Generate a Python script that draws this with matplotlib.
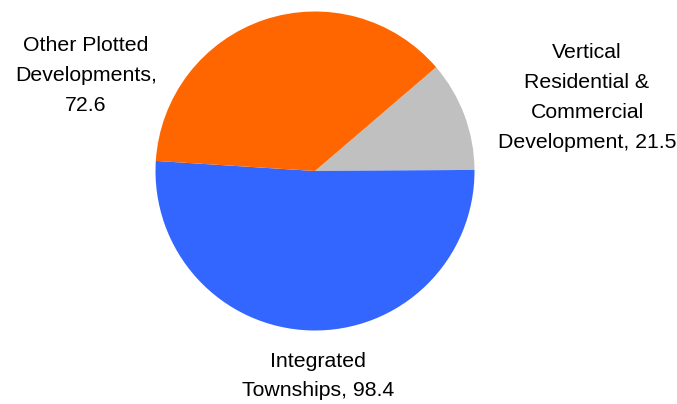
import matplotlib
matplotlib.use("Agg")
import matplotlib.pyplot as plt

categories = ["Vertical\nResidential &\nCommercial\nDevelopment", "Integrated\nTownships", "Other Plotted\nDevelopments"]
values = [21.5, 98.4, 72.6]
colors = ["#C0C0C0", "#3366FF", "#FF6600"]
value_sep = [", ", ", ", ",\n"]

plt.rcParams['font.family'] = ['Liberation Sans', 'DejaVu Sans']

W, H = 677, 404
fig = plt.figure(figsize=(W / 100, H / 100), dpi=100)
cx, cy, r = 315, 171, 159.5
ax = fig.add_axes([(cx - r) / W, (H - cy - r) / H, 2 * r / W, 2 * r / H])
start = 40.6
ax.pie(values, colors=colors, startangle=start, counterclock=False,
       wedgeprops=dict(linewidth=0))
ax.set_xlim(-1, 1)
ax.set_ylim(-1, 1)
ax.set_aspect('equal')
ax.axis('off')

label_pos = [(587, 97.5), (318, 376), (86, 75.5)]
for cat, val, sep, (px, py) in zip(categories, values, value_sep, label_pos):
    fig.text(px / W, 1 - py / H, f"{cat}{sep}{val}", ha='center', va='center',
             fontsize=15.3, linespacing=1.72, color='black')

fig.savefig("out.png", dpi=100)
